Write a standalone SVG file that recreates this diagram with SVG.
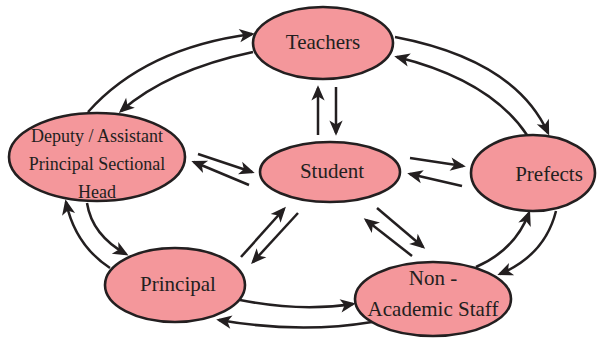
<svg xmlns="http://www.w3.org/2000/svg" width="600" height="338" viewBox="0 0 600 338">
<style>
.node ellipse{fill:#f4979b;stroke:#231f20;stroke-width:2.6}
.node text{font-family:'Liberation Serif','DejaVu Serif',serif;font-size:21px;fill:#231f20;text-anchor:middle}
.node text.sm{font-size:18px}
#connectors path{fill:none;stroke:#231f20;stroke-width:2.5;marker-end:url(#ah)}
</style>
<defs>
<marker id="ah" markerUnits="userSpaceOnUse" markerWidth="20" markerHeight="16" viewBox="-12 -7 16 14" refX="0" refY="0" orient="auto">
<path d="M2.5,0 L-11,-5.8 L-7.5,0 L-11,5.8 Z" fill="#231f20"/>
</marker>
</defs>
<rect width="600" height="338" fill="#fff"/>
<g id="connectors">
<path d="M88,112 Q145,48 252,34"/>
<path d="M253,52 Q168,70 121,111"/>
<path d="M395,37 Q515,60 548,133"/>
<path d="M527,135 Q490,80 397,57"/>
<path d="M318,135 L318,88"/>
<path d="M336,87 L336,133"/>
<path d="M198,154 L252,172"/>
<path d="M249,185 L194,162"/>
<path d="M410,158 L463,166"/>
<path d="M462,186 L410,174"/>
<path d="M241,257 L284,209"/>
<path d="M298,213 L253,262"/>
<path d="M377,208 L423,247"/>
<path d="M412,256 L366,220"/>
<path d="M87,203 Q92,235 126,254"/>
<path d="M110,268 Q75,245 66,202"/>
<path d="M240,300 Q300,312 353,304"/>
<path d="M372,322 Q300,334 219,320"/>
<path d="M476,267 Q515,250 529,213"/>
<path d="M556,211 Q545,255 500,274"/>
</g>
<g id="teachers" class="node"><ellipse cx="323" cy="43" rx="70" ry="36"/><text x="323" y="49" font-family="Liberation Serif">Teachers</text></g>
<g id="deputy" class="node"><ellipse cx="97" cy="157" rx="88" ry="44"/><text class="sm" x="97" y="142">Deputy / Assistant</text><text class="sm" x="97" y="170">Principal Sectional</text><text class="sm" x="97" y="198">Head</text></g>
<g id="student" class="node"><ellipse cx="330" cy="172" rx="70" ry="30"/><text x="332" y="178">Student</text></g>
<g id="prefects" class="node"><ellipse cx="533" cy="173" rx="62" ry="38"/><text x="549" y="181">Prefects</text></g>
<g id="principal" class="node"><ellipse cx="175" cy="285" rx="70" ry="37"/><text x="178" y="291">Principal</text></g>
<g id="nonacademic" class="node"><ellipse cx="433" cy="299" rx="78" ry="37"/><text x="433" y="285">Non -</text><text x="433" y="316">Academic Staff</text></g>
</svg>
